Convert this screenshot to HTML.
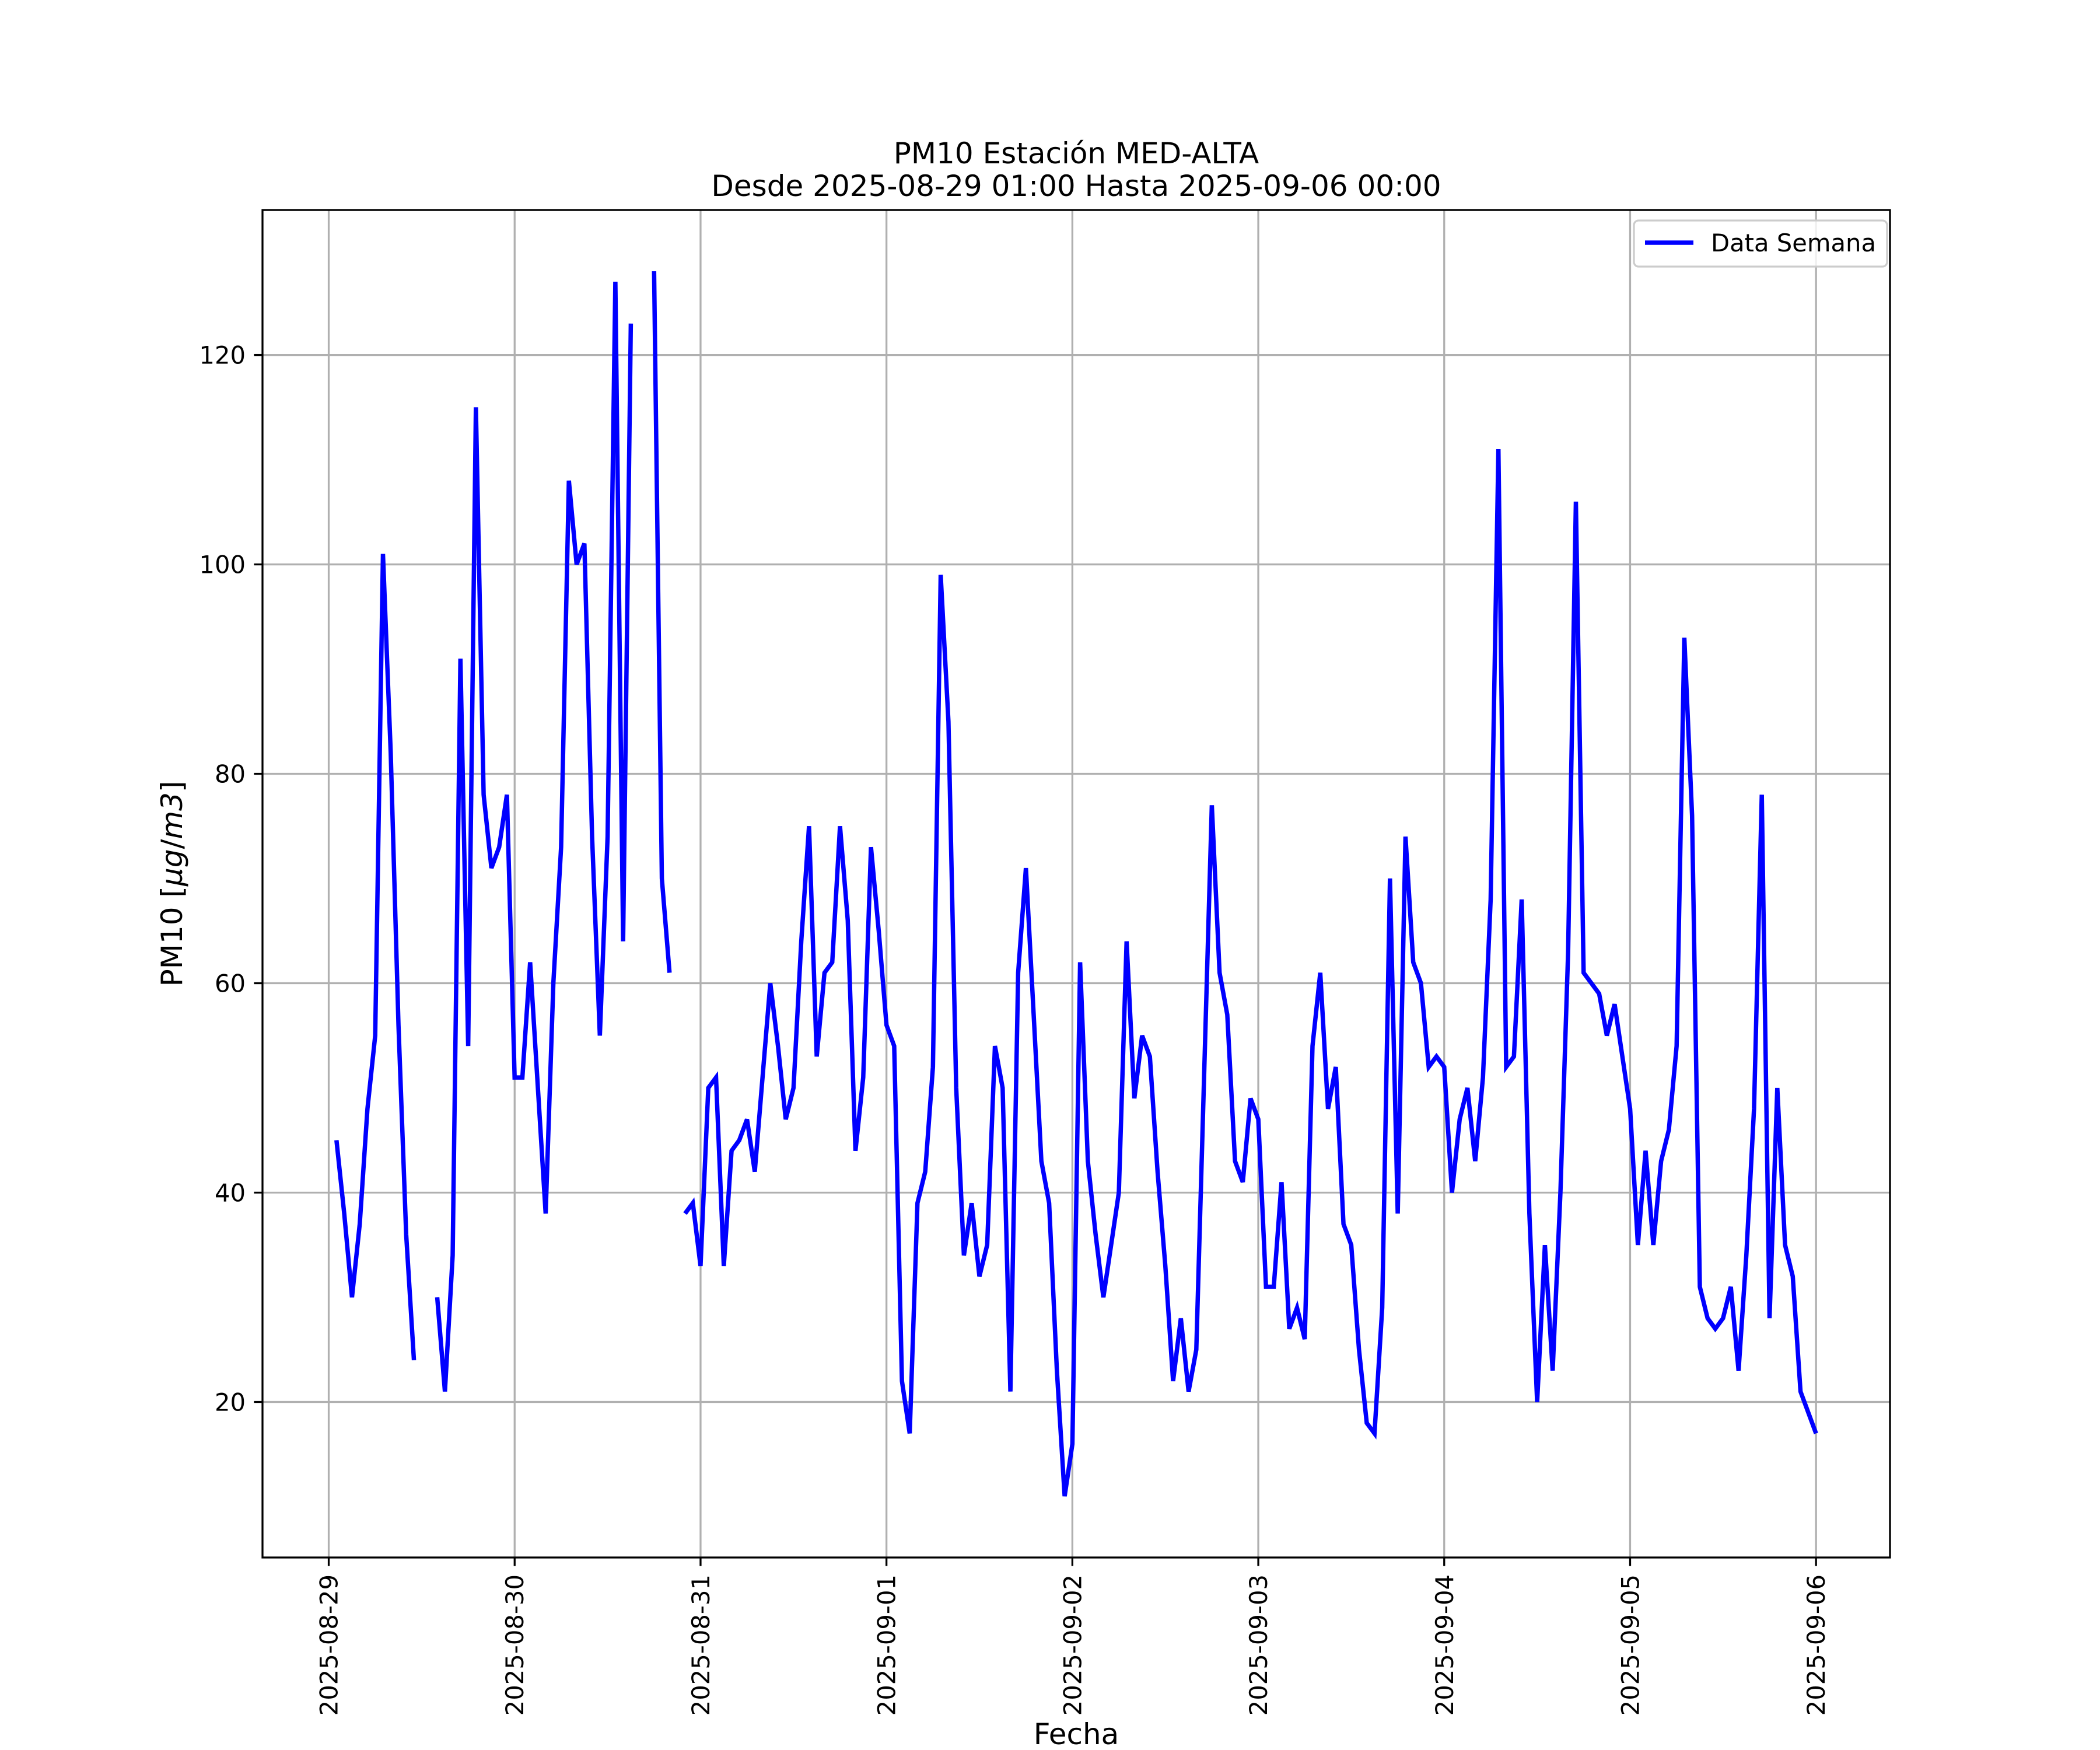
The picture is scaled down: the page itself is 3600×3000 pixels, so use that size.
<!DOCTYPE html>
<html><head><meta charset="utf-8"><style>html,body{margin:0;padding:0;background:#fff}svg{display:block}text{font-family:"DejaVu Sans","Liberation Sans",sans-serif;fill:#000}</style></head>
<body>
<svg id="chart" xmlns="http://www.w3.org/2000/svg" width="3600" height="3000" viewBox="0 0 3600 3000">
<rect width="3600" height="3000" fill="#fff"/>
<g id="grid"></g>
<g id="ticks"></g>
<g id="series"></g>
<rect x="450" y="360" width="2790" height="2310" fill="none" stroke="#000" stroke-width="3.3"/>
<text x="1845" y="280" font-size="50" text-anchor="middle">PM10 Estación MED-ALTA</text>
<text x="1845" y="336" font-size="50" text-anchor="middle">Desde 2025-08-29 01:00 Hasta 2025-09-06 00:00</text>
<text x="1845" y="2990" font-size="50" text-anchor="middle">Fecha</text>
<text transform="translate(312,1515) rotate(-90)" font-size="50" text-anchor="middle">PM10 [<tspan font-style="italic">μg</tspan>/<tspan font-style="italic">m3</tspan>]</text>
<g>
<rect x="2801" y="378" width="434" height="79" rx="8" fill="#fff" fill-opacity="0.8" stroke="#ccc" stroke-width="3.3"/>
<line x1="2820" y1="416" x2="2903" y2="416" stroke="#0000ff" stroke-width="7.5"/>
<text x="2933" y="431" font-size="41.7">Data Semana</text>
</g>
</svg>
<script>
const dayLabels=["2025-08-29","2025-08-30","2025-08-31","2025-09-01","2025-09-02","2025-09-03","2025-09-04","2025-09-05","2025-09-06"];
const yTicks=[20,40,60,80,100,120];
const startHour=1;
const pm10=[45,38,30,37,48,55,101,82,56,36,24,null,null,30,21,34,91,54,115,78,71,73,78,51,
51,62,50,38,60,73,108,100,102,74,55,74,127,64,123,null,null,128,70,61,null,38,39,33,
50,51,33,44,45,47,42,51,60,54,47,50,64,75,53,61,62,75,66,44,51,73,65,56,
54,22,17,39,42,52,99,85,50,34,39,32,35,54,50,21,61,71,57,43,39,23,11,16,
62,43,36,30,35,40,64,49,55,53,42,33,22,28,21,25,51,77,61,57,43,41,49,47,
31,31,41,27,29,26,54,61,48,52,37,35,25,18,17,29,70,38,74,62,60,52,53,52,
40,47,50,43,51,68,111,52,53,68,38,20,35,23,40,63,106,61,60,59,55,58,53,48,
35,44,35,43,46,54,93,76,31,28,27,28,31,23,34,48,78,28,50,35,32,21,19,17];
const NS="http://www.w3.org/2000/svg";
const L=450,R=3240,T=360,B=2670;
const hrs=pm10.map((v,i)=>startHour+i);
const x0=hrs[0],x1=hrs[hrs.length-1];
const vals=pm10.filter(v=>v!==null);
const vmin=Math.min(...vals),vmax=Math.max(...vals);
const xlo=x0-(x1-x0)*0.05,xhi=x1+(x1-x0)*0.05;
const ylo=vmin-(vmax-vmin)*0.05,yhi=vmax+(vmax-vmin)*0.05;
const X=h=>L+(h-xlo)/(xhi-xlo)*(R-L);
const Y=v=>B-(v-ylo)/(yhi-ylo)*(B-T);
const grid=document.getElementById('grid'),ticks=document.getElementById('ticks'),series=document.getElementById('series');
function mk(tag,attrs,parent){const e=document.createElementNS(NS,tag);for(const k in attrs)e.setAttribute(k,attrs[k]);parent.appendChild(e);return e;}
dayLabels.forEach((lab,i)=>{
  const x=X(i*24);
  const g=mk('line',{x1:x,x2:x,y1:T,y2:B,stroke:'#b0b0b0','stroke-width':3.3},grid);
  
  
  const t=mk('line',{x1:x,x2:x,y1:B,y2:B+14.6,stroke:'#000','stroke-width':3.3},ticks);
  
  
  const tx=mk('text',{transform:`translate(${x+15},${B+29}) rotate(-90)`,'font-size':41.7,'text-anchor':'end'},ticks);
  tx.textContent=lab;
  
  
});
yTicks.forEach(v=>{
  const y=Y(v);
  const g=mk('line',{x1:L,x2:R,y1:y,y2:y,stroke:'#b0b0b0','stroke-width':3.3},grid);
  
  
  const t=mk('line',{x1:L-14.6,x2:L,y1:y,y2:y,stroke:'#000','stroke-width':3.3},ticks);
  
  
  const tx=mk('text',{x:L-29,y:y+15,'font-size':41.7,'text-anchor':'end'},ticks);
  tx.textContent=String(v);
  
  
});
let segs=[],cur=[];
pm10.forEach((v,i)=>{if(v===null){if(cur.length)segs.push(cur);cur=[];}else cur.push([X(hrs[i]),Y(v)]);});
if(cur.length)segs.push(cur);
segs.forEach(s=>{
  const p=mk('polyline',{points:s.map(q=>q[0].toFixed(1)+','+q[1].toFixed(1)).join(' '),fill:'none',stroke:'#0000ff','stroke-width':7.5,'stroke-linejoin':'miter','stroke-miterlimit':4,'stroke-linecap':'butt'},series);
  
  
});
</script>
</body></html>
